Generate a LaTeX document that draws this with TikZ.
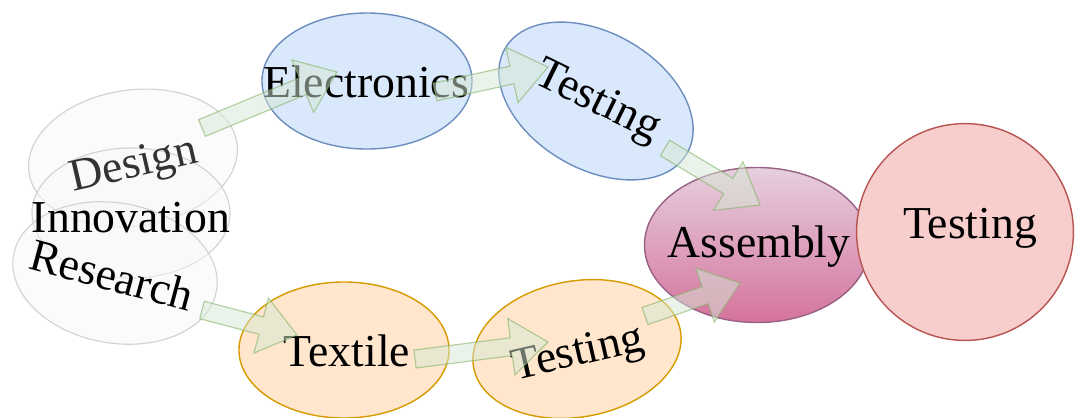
\documentclass[tikz,border=0pt]{standalone}
\usepackage{fontspec}
\setmainfont{Liberation Serif}
\usepackage{tikz}
\usetikzlibrary{calc,shapes.geometric}

\definecolor{bluefill}{HTML}{DAE8FC}
\definecolor{bluedraw}{HTML}{6C8EBF}
\definecolor{orangefill}{HTML}{FFE6CC}
\definecolor{orangedraw}{HTML}{D79B00}
\definecolor{pinktop}{HTML}{E6D0DE}
\definecolor{pinkbottom}{HTML}{D5739D}
\definecolor{pinkdraw}{HTML}{996185}
\definecolor{redfill}{HTML}{F8CECC}
\definecolor{reddraw}{HTML}{B85450}
\definecolor{greenfill}{HTML}{D5E8D4}
\definecolor{greendraw}{HTML}{82B366}

% block arrow from #1 to the tip #2
\newcommand{\flowarrow}[2]{%
  \coordinate (neck) at ($(#2)!0.925cm!(#1)$);
  \path[flow] ($(#1)!0.225cm!90:(#2)$) -- ($(neck)!0.225cm!90:(#2)$)
    -- ($(neck)!0.71cm!90:(#2)$) -- (#2) -- ($(neck)!0.71cm!-90:(#2)$)
    -- ($(neck)!0.225cm!-90:(#2)$) -- ($(#1)!0.225cm!-90:(#2)$) -- cycle;
}

\begin{document}
\begin{tikzpicture}[x=0.025cm, y=-0.025cm,
  font=\fontsize{32.5}{39}\selectfont,
  bubble/.style={ellipse, inner sep=0pt, line width=1pt, minimum width=5.25cm, minimum height=3.4cm},
  greybubble/.style={bubble, draw=gray!35, fill=gray!6, fill opacity=0.5, line width=0.8pt},
  flow/.style={fill=greenfill, draw=greendraw, fill opacity=0.5, draw opacity=0.6, line width=0.8pt, line join=miter}]
\useasboundingbox (0,0) rectangle (1075,417);
\clip (0,0) rectangle (1075,417);

%Ideas
\node[greybubble, rotate=8] (design) at (133,158) {};
\node[greybubble, minimum width=4.95cm, minimum height=3.25cm] (innovation) at (131,213) {};
\node[greybubble, minimum width=5.15cm, minimum height=3.5cm, rotate=-10] (research) at (115,273) {};

%Electronics branch
\node[bubble, fill=bluefill, draw=bluedraw] (electronics) at (367,81) {};
\node[bubble, fill=bluefill, draw=bluedraw, rotate=-30] (testtop) at (596,101) {};

%Textile branch
\node[bubble, fill=orangefill, draw=orangedraw] (textile) at (344,350) {};
\node[bubble, fill=orangefill, draw=orangedraw, rotate=10] (testbottom) at (577,349) {};

%Assembly and final test
\node[bubble, top color=pinktop, bottom color=pinkbottom, draw=pinkdraw,
  minimum width=5.625cm, minimum height=3.875cm] (assembly) at (757,245) {};
\node[circle, inner sep=0pt, minimum size=5.42cm, line width=1pt, fill=redfill, draw=reddraw] (final) at (965,232) {};

%Texts
\node[text=black!80, rotate=13] (designtext) at (134,167) {Design};
\node (innovationtext) at (131,218) {Innovation};
\node[rotate=-15] (researchtext) at (112,275) {Research};
\node (electronicstext) at (366,82) {Electronics};
\node[rotate=-26] (testtoptext) at (597,103) {Testing};
\node (textiletext) at (347,351) {Textile};
\node[rotate=13] (testbottomtext) at (578,355) {Testing};
\node (assemblytext) at (759,247) {Assembly};
\node (finaltext) at (970,228) {Testing};

%Arrows
\coordinate (a1) at (202,128); \coordinate (a1tip) at (337,72);
\coordinate (a2) at (435,92);  \coordinate (a2tip) at (548,67);
\coordinate (a3) at (665,148); \coordinate (a3tip) at (760,205);
\coordinate (a4) at (645,316); \coordinate (a4tip) at (740,283);
\coordinate (a5) at (202,310); \coordinate (a5tip) at (297,335);
\coordinate (a6) at (415,359); \coordinate (a6tip) at (548,342);
\flowarrow{a1}{a1tip}
\flowarrow{a2}{a2tip}
\flowarrow{a3}{a3tip}
\flowarrow{a4}{a4tip}
\flowarrow{a5}{a5tip}
\flowarrow{a6}{a6tip}
\end{tikzpicture}
\end{document}
